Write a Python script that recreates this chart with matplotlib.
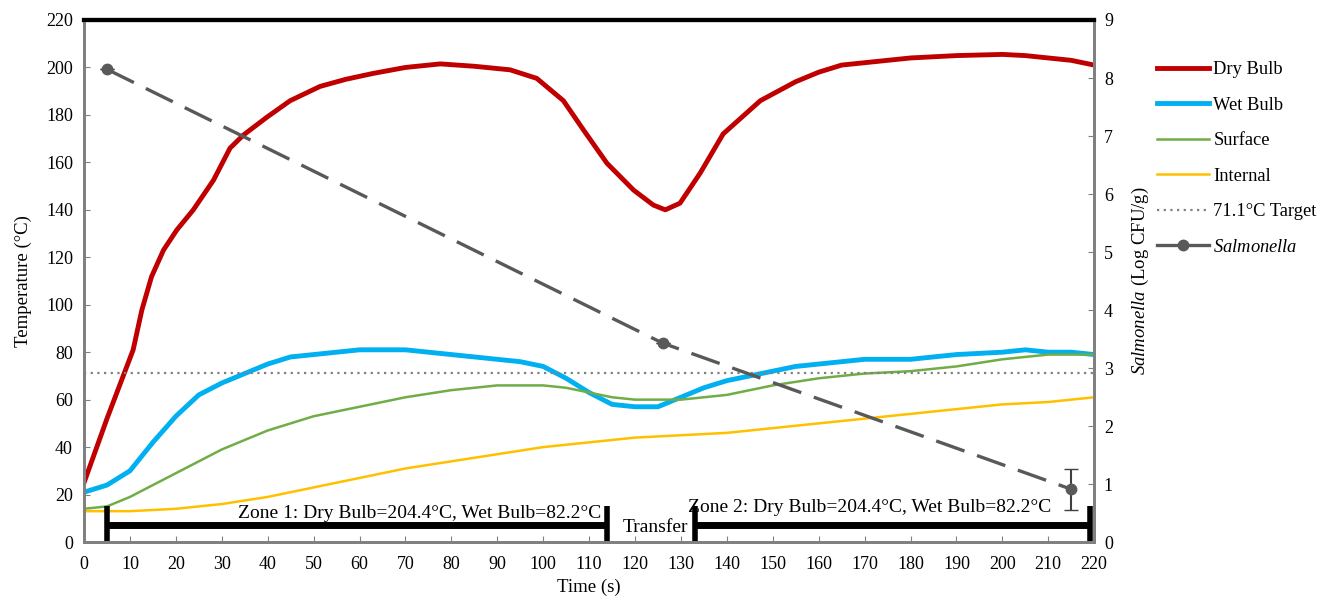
import numpy as np
import matplotlib
matplotlib.use("Agg")
import matplotlib.pyplot as plt

plt.rcParams['font.family'] = ['Liberation Serif', 'DejaVu Serif']
plt.rcParams['mathtext.fontset'] = 'custom'
plt.rcParams['mathtext.it'] = 'Liberation Serif:italic'
plt.rcParams['mathtext.rm'] = 'Liberation Serif'

# ---- data ----
dry_t = [0, 5, 10.7, 12.6, 14.7, 17.3, 20.2, 23.8, 28.2, 31.8, 34.7, 39.8,
         44.9, 51.4, 57, 63, 70, 77.6, 85, 92.8, 98.6, 104.4, 108.8, 113.9,
         119.7, 124, 126.6, 129.8, 134.2, 139.2, 147.3, 155, 160, 165, 170,
         180, 190, 200, 205, 210, 215, 220]
dry_v = [25, 52, 81, 97.8, 111.8, 123, 131.5, 140, 152.5, 166, 171.5, 179,
         186, 192, 195, 197.5, 200, 201.5, 200.5, 199, 195.4, 186, 173.6, 159.6,
         148.3, 142, 140, 142.8, 155.5, 172, 186, 194, 198, 201, 202, 204, 205,
         205.5, 205, 204, 203, 201]

wet_t = [0, 5, 10, 15, 20, 25, 30, 35, 40, 45, 50, 55, 60, 65, 70, 75, 80, 85,
         90, 95, 100, 105, 110, 115, 120, 125, 130, 135, 140, 145, 150, 155, 160,
         165, 170, 180, 190, 200, 205, 210, 215, 220]
wet_v = [21, 24, 30, 42, 53, 62, 67, 71, 75, 78, 79, 80, 81, 81, 81, 80, 79, 78,
         77, 76, 74, 69, 63, 58, 57, 57, 61, 65, 68, 70, 72, 74, 75, 76, 77, 77,
         79, 80, 81, 80, 80, 79]

surf_t = [0, 5, 10, 15, 20, 25, 30, 35, 40, 45, 50, 55, 60, 70, 80, 90, 100,
          105, 110, 115, 120, 130, 140, 150, 160, 170, 180, 190, 200, 210, 220]
surf_v = [14, 15, 19, 24, 29, 34, 39, 43, 47, 50, 53, 55, 57, 61, 64, 66, 66,
          65, 63, 61, 60, 60, 62, 66, 69, 71, 72, 74, 77, 79, 79]

int_t = [0, 10, 20, 30, 40, 50, 60, 70, 80, 90, 100, 110, 120, 130, 140, 150,
         160, 170, 180, 190, 200, 210, 220]
int_v = [13, 13, 14, 16, 19, 23, 27, 31, 34, 37, 40, 42, 44, 45, 46, 48, 50, 52,
         54, 56, 58, 59, 61]

target = 71.1

sal_t = [5, 126, 215]
sal_v = [8.15, 3.43, 0.91]
sal_err = [0, 0, 0.35]

zones = [(5, 114), (133, 219)]
zone_y = 7.2

# ---- plot ----
fig = plt.figure(figsize=(13.17, 5.97), dpi=100)
ax = fig.add_axes([0.0638, 0.0921, 0.767, 0.8744])
ax2 = ax.twinx()

l1, = ax.plot(dry_t, dry_v, color='#C00000', lw=3.5, label='Dry Bulb')
l2, = ax.plot(wet_t, wet_v, color='#00B0F0', lw=3.5, label='Wet Bulb')
l3, = ax.plot(surf_t, surf_v, color='#70AD47', lw=1.8, label='Surface')
l4, = ax.plot(int_t, int_v, color='#FFC000', lw=1.8, label='Internal')
l5 = ax.axhline(target, color='#808080', lw=1.6, ls=(0, (1, 2)),
                label='71.1°C Target')

# zone bars
for x0, x1 in zones:
    ax.plot([x0, x1], [zone_y, zone_y], color='black', lw=5, solid_capstyle='butt')
    ax.vlines([x0, x1], zone_y - 8, zone_y + 8, color='black', lw=4)
ax.text(73, 8.4, 'Zone 1: Dry Bulb=204.4°C, Wet Bulb=82.2°C', ha='center',
        va='bottom', fontsize=14)
ax.text(124.5, 6, 'Transfer', ha='center', va='center', fontsize=14)
ax.text(171, 10.8, 'Zone 2: Dry Bulb=204.4°C, Wet Bulb=82.2°C', ha='center',
        va='bottom', fontsize=14)

ax2.errorbar(sal_t, sal_v, yerr=sal_err, color='#595959', lw=2.4,
             ls=(0, (9, 4)), marker='o', ms=7.5, capsize=5, elinewidth=1.5,
             ecolor='#404040')
l6, = ax.plot([], [], color='#595959', lw=2.4, marker='o', ms=7.5,
              label='$\\mathit{Salmonella}$')

ax.set_xlim(0, 220)
ax.set_ylim(0, 220)
ax2.set_ylim(0, 9)
ax.set_xticks(np.arange(0, 221, 10))
ax.set_yticks(np.arange(0, 221, 20))
ax2.set_yticks(np.arange(0, 10, 1))
ax.tick_params(direction='in', labelsize=13, length=4, color='#808080')
ax2.tick_params(direction='in', labelsize=13, length=4, color='#808080', pad=7)
ax.tick_params(axis='x', pad=10)
ax.tick_params(axis='y', pad=8)
ax.set_xlabel('Time (s)', fontsize=13.5, labelpad=4)
ax.set_ylabel('Temperature (°C)', fontsize=13.5, labelpad=10)
ax2.set_ylabel('$\\mathit{Salmonella}$ (Log CFU/g)', fontsize=13.5, labelpad=12)

for a in (ax, ax2):
    for s in ('left', 'right', 'bottom'):
        a.spines[s].set_color('#808080')
        a.spines[s].set_linewidth(2)
    a.spines['top'].set_color('black')
    a.spines['top'].set_linewidth(3)

fig.legend(handles=[l1, l2, l3, l4, l5, l6], loc='upper left',
           bbox_to_anchor=(0.8785, 0.897), frameon=False, fontsize=13.3,
           handlelength=2.8, labelspacing=1.0, handletextpad=0.25,
           borderpad=0, borderaxespad=0)

fig.savefig('out.png', dpi=100)
